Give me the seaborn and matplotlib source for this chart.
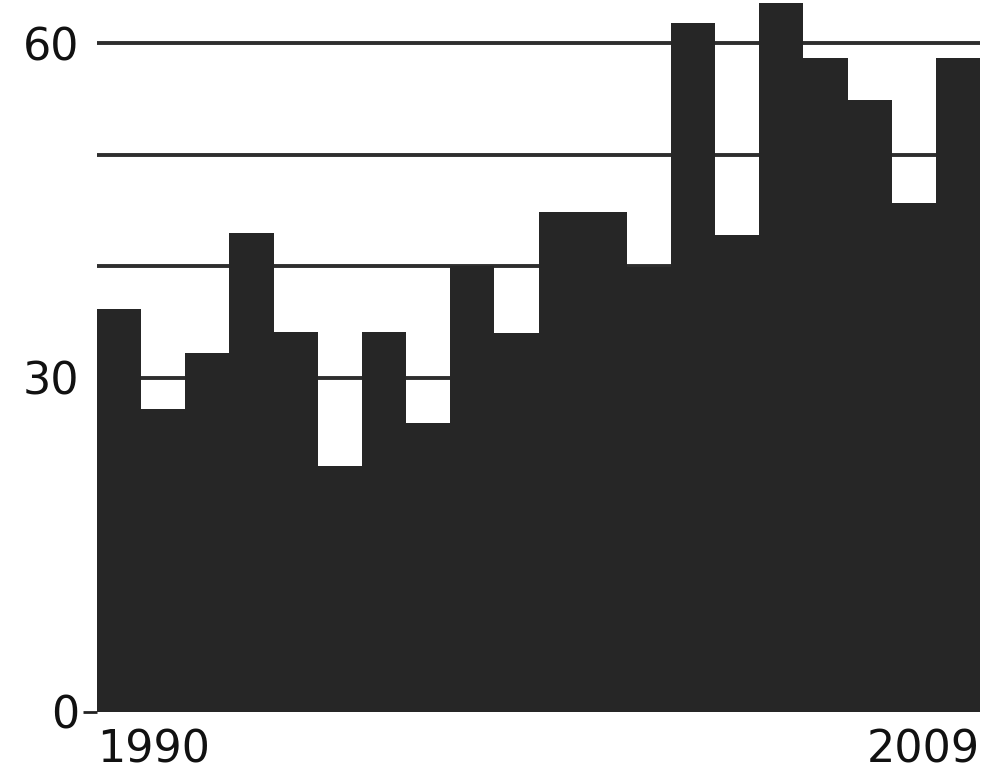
import matplotlib
matplotlib.use("Agg")
import matplotlib.pyplot as plt
import seaborn as sns
import pandas as pd

# values
years = [str(y) for y in range(1990, 2010)]
values = [36.2, 27.2, 32.2, 43.0, 34.1, 22.1, 34.1, 25.9, 40.0, 34.0,
          44.9, 44.9, 39.9, 61.8, 42.8, 63.6, 58.7, 54.9, 45.7, 58.7]
grid_levels = [30, 40, 50, 60]
ytick_values = [0, 30, 60]
xtick_labels = ["1990", "2009"]

df = pd.DataFrame({"year": years, "value": values})

sns.set_style("white")
plt.rcParams["font.family"] = ["DejaVu Sans"]

fig = plt.figure(figsize=(9.86, 7.75), dpi=100)
ax = fig.add_axes([0.0984, 0.0813, 0.8956, 0.9187])

# horizontal reference lines behind the bars
for lvl in grid_levels:
    ax.axhline(lvl, color="#2e2e2e", linewidth=2.8, zorder=0)

sns.barplot(data=df, x="year", y="value", color="#262626", width=1.0,
            saturation=1, edgecolor="none", linewidth=0, ax=ax, zorder=2)

ax.set_ylim(0, 63.9)
ax.set_xlim(-0.5, len(years) - 0.5)
ax.set_xlabel("")
ax.set_ylabel("")

ax.set_yticks(ytick_values)
ax.set_yticklabels([str(v) for v in ytick_values], fontsize=32, color="#111111")
ax.tick_params(axis="y", length=10, width=2, color="#222222", pad=3, left=True)
for t in ax.yaxis.get_major_ticks()[1:]:
    t.tick1line.set_visible(False)

ax.set_xticks([-0.5, len(years) - 0.5])
ax.set_xticklabels(xtick_labels, fontsize=32, color="#111111")
ax.tick_params(axis="x", length=0, pad=12)
labs = ax.get_xticklabels()
labs[0].set_ha("left")
labs[1].set_ha("right")

sns.despine(ax=ax, left=True, bottom=True)

fig.savefig("out.png", dpi=100)
